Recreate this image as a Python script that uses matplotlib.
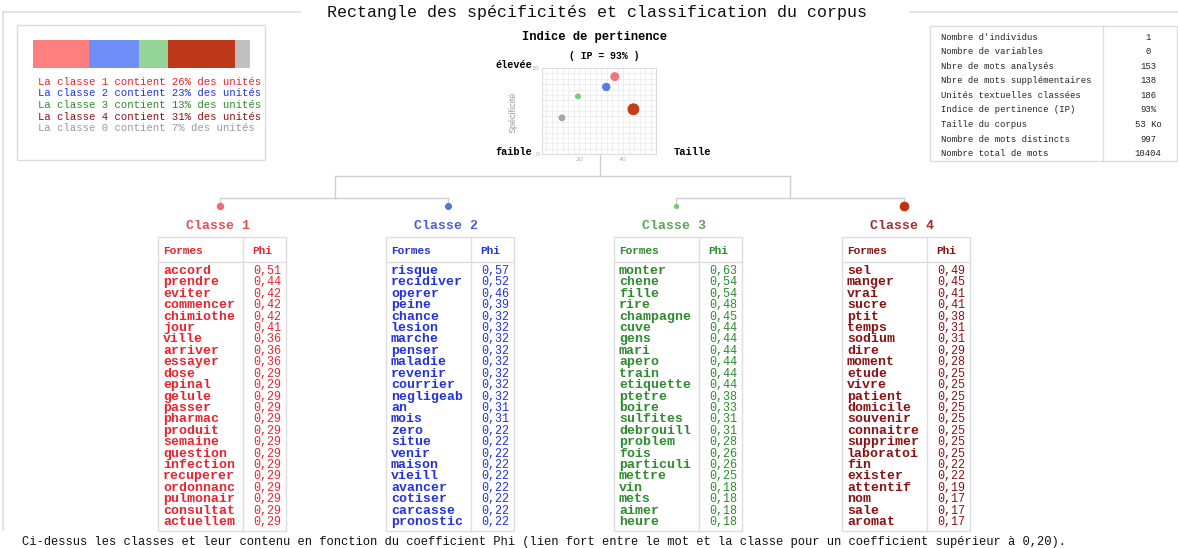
import matplotlib
matplotlib.use("Agg")
import matplotlib.pyplot as plt
from matplotlib.patches import Rectangle

MONO = "Liberation Mono"

# --- data ---------------------------------------------------------------
share_classes = ["1", "2", "3", "4", "0"]
share_pct = [26, 23, 13, 31, 7]

bubble_size_x = [36.2, 32.3, 19.4, 44.7, 12.1]   # Taille
bubble_spec_y = [9.0, 7.8, 6.7, 5.2, 4.2]        # Spécificité
bubble_diam = [8, 7.5, 5, 11, 6]                 # bubble diameter (px)

stat_labels = [
    "Nombre d'individus", "Nombre de variables", "Nbre de mots analysés",
    "Nbre de mots supplémentaires", "Unités textuelles classées",
    "Indice de pertinence (IP)", "Taille du corpus",
    "Nombre de mots distincts", "Nombre total de mots",
]
stat_values = ["1", "0", "153", "138", "186", "93%", "53 Ko", "997", "10404"]

class_titles = ["Classe 1", "Classe 2", "Classe 3", "Classe 4"]

words_c1 = ["accord", "prendre", "eviter", "commencer", "chimiothe", "jour",
            "ville", "arriver", "essayer", "dose", "epinal", "gelule", "passer",
            "pharmac", "produit", "semaine", "question", "infection",
            "recuperer", "ordonnanc", "pulmonair", "consultat", "actuellem"]
phi_c1 = [0.51, 0.44, 0.42, 0.42, 0.42, 0.41, 0.36, 0.36, 0.36, 0.29, 0.29,
          0.29, 0.29, 0.29, 0.29, 0.29, 0.29, 0.29, 0.29, 0.29, 0.29, 0.29,
          0.29]

words_c2 = ["risque", "recidiver", "operer", "peine", "chance", "lesion",
            "marche", "penser", "maladie", "revenir", "courrier", "negligeab",
            "an", "mois", "zero", "situe", "venir", "maison", "vieill",
            "avancer", "cotiser", "carcasse", "pronostic"]
phi_c2 = [0.57, 0.52, 0.46, 0.39, 0.32, 0.32, 0.32, 0.32, 0.32, 0.32, 0.32,
          0.32, 0.31, 0.31, 0.22, 0.22, 0.22, 0.22, 0.22, 0.22, 0.22, 0.22,
          0.22]

words_c3 = ["monter", "chene", "fille", "rire", "champagne", "cuve", "gens",
            "mari", "apero", "train", "etiquette", "ptetre", "boire",
            "sulfites", "debrouill", "problem", "fois", "particuli", "mettre",
            "vin", "mets", "aimer", "heure"]
phi_c3 = [0.63, 0.54, 0.54, 0.48, 0.45, 0.44, 0.44, 0.44, 0.44, 0.44, 0.44,
          0.38, 0.33, 0.31, 0.31, 0.28, 0.26, 0.26, 0.25, 0.18, 0.18, 0.18,
          0.18]

words_c4 = ["sel", "manger", "vrai", "sucre", "ptit", "temps", "sodium",
            "dire", "moment", "etude", "vivre", "patient", "domicile",
            "souvenir", "connaitre", "supprimer", "laboratoi", "fin",
            "exister", "attentif", "nom", "sale", "aromat"]
phi_c4 = [0.49, 0.45, 0.41, 0.41, 0.38, 0.31, 0.31, 0.29, 0.28, 0.25, 0.25,
          0.25, 0.25, 0.25, 0.25, 0.25, 0.25, 0.22, 0.22, 0.19, 0.17, 0.17,
          0.17]

# --- colours (classes 1, 2, 3, 4, 0) ------------------------------------
bar_colors = ["#ff7f7f", "#6f8ff7", "#94d494", "#c0381a", "#c0c0c0"]
text_colors = ["#e8242e", "#2233dd", "#2e8b2e", "#8b1212", "#9a9a9a"]
title_colors = ["#e05050", "#4a5fd0", "#5aa55a", "#a03030"]
bubble_colors = ["#f26a78", "#4e74e6", "#72cc72", "#c0330e", "#a0a0a0"]
LINE = "#cfcfcf"
BOX = "#dddddd"

W, H = 1178, 548
fig = plt.figure(figsize=(W / 100, H / 100), dpi=100, facecolor="white")
ax = fig.add_axes([0, 0, 1, 1])
ax.set_xlim(0, W)
ax.set_ylim(H, 0)
ax.axis("off")

# --- frame + title ------------------------------------------------------
ax.plot([3, 300], [12, 12], color=BOX, lw=1.2)
ax.plot([910, W], [12, 12], color=BOX, lw=1.2)
ax.plot([3, 3], [12, 530], color=BOX, lw=1.2)
ax.text(597, 13, "Rectangle des spécificités et classification du corpus",
        family=MONO, fontsize=12, ha="center", va="center", color="#111111")

# --- share bar + legend -------------------------------------------------
ax.add_patch(Rectangle((17, 25), 248, 135, fill=False, ec=BOX, lw=1))
x0, bar_w = 33, 217
total = sum(share_pct)
for pct, col in zip(share_pct, bar_colors):
    w = bar_w * pct / total
    ax.add_patch(Rectangle((x0, 40), w, 28, color=col, lw=0))
    x0 += w
for i, (cls, pct) in enumerate(zip(share_classes, share_pct)):
    ax.text(38, 82 + i * 11.5, f"La classe {cls} contient {pct}% des unités",
            family=MONO, fontsize=7.7, color=text_colors[i], va="center")

# --- relevance scatter --------------------------------------------------
sx0, sx1, sy0, sy1 = 542, 656, 68, 154
sax = fig.add_axes([sx0 / W, 1 - sy1 / H, (sx1 - sx0) / W, (sy1 - sy0) / H])
sax.set_xlim(3, 55)
sax.set_ylim(0, 10)
sax.set_xticks([20, 40])
sax.set_yticks([0, 10])
sax.set_xticks([v * 2.5 for v in range(2, 22)], minor=True)
sax.set_yticks([v * 0.625 for v in range(17)], minor=True)
sax.grid(True, which="both", color="#ececec", lw=0.6)
sax.set_axisbelow(True)
sax.tick_params(which="both", length=0, labelsize=4.5, colors="#b0b0b0",
                pad=2)
for sp in sax.spines.values():
    sp.set_color("#dcdcdc")
    sp.set_linewidth(0.8)
sax.scatter(bubble_size_x, bubble_spec_y,
            s=[(d * 0.72) ** 2 for d in bubble_diam],
            c=bubble_colors, edgecolors=bubble_colors, linewidths=0.6,
            alpha=0.95, zorder=3)

ax.text(595, 37, "Indice de pertinence", family=MONO, fontsize=8.7,
        fontweight="bold", ha="center", va="center")
ax.text(604, 56, "( IP = 93% )", family=MONO, fontsize=7, fontweight="bold",
        ha="center", va="center")
ax.text(532, 65, "élevée", family=MONO, fontsize=7.4, fontweight="bold",
        ha="right", va="center")
ax.text(532, 152, "faible", family=MONO, fontsize=7.4, fontweight="bold",
        ha="right", va="center")
ax.text(674, 152, "Taille", family=MONO, fontsize=7.6, fontweight="bold",
        ha="left", va="center")
ax.text(513, 112, "Spécificité", family="Liberation Sans", fontsize=6.5,
        rotation=90, ha="center", va="center", color="#999999")

# --- stats table --------------------------------------------------------
ax.add_patch(Rectangle((930, 26), 247, 135, fill=False, ec=BOX, lw=1))
ax.plot([1103, 1103], [26, 161], color=BOX, lw=1)
for i, (lab, val) in enumerate(zip(stat_labels, stat_values)):
    y = 37 + i * 14.6
    ax.text(941, y, lab, family=MONO, fontsize=6.4, va="center",
            color="#222222")
    ax.text(1148, y, val, family=MONO, fontsize=6.4, va="center",
            ha="center", color="#222222")

# --- dendrogram ---------------------------------------------------------
tbl_left = [158 + k * 228 for k in range(4)]
dot_x = [l + 62 for l in tbl_left]
ax.plot([600, 600], [sy1, 176], color=LINE, lw=1)
ax.plot([335, 790], [176, 176], color=LINE, lw=1)
ax.plot([335, 335], [176, 198], color=LINE, lw=1)
ax.plot([790, 790], [176, 198], color=LINE, lw=1)
ax.plot([dot_x[0], dot_x[1]], [198, 198], color=LINE, lw=1)
ax.plot([dot_x[2], dot_x[3]], [198, 198], color=LINE, lw=1)
for k, x in enumerate(dot_x):
    ax.plot([x, x], [198, 206], color=LINE, lw=1)
    ax.scatter([x], [206], s=(bubble_diam[k] * 0.75 * 0.72) ** 2,
               color=bubble_colors[k], zorder=4)

# --- class tables -------------------------------------------------------
all_words = [words_c1, words_c2, words_c3, words_c4]
all_phi = [phi_c1, phi_c2, phi_c3, phi_c4]
for k, left in enumerate(tbl_left):
    col = text_colors[k]
    ax.text(left + 60, 226, class_titles[k], family=MONO, fontsize=9.5,
            fontweight="bold", color=title_colors[k], ha="center",
            va="center")
    ax.add_patch(Rectangle((left, 237), 128, 294, fill=False, ec=BOX, lw=1))
    ax.plot([left + 85, left + 85], [237, 531], color=BOX, lw=1)
    ax.plot([left, left + 128], [262, 262], color=BOX, lw=1)
    ax.text(left + 5, 251, "Formes", family=MONO, fontsize=8,
            fontweight="bold", color=col, va="center")
    ax.text(left + 94, 251, "Phi", family=MONO, fontsize=8,
            fontweight="bold", color=col, va="center")
    for r, (word, phi) in enumerate(zip(all_words[k], all_phi[k])):
        y = 271 + r * 11.41
        ax.text(left + 5, y, word, family=MONO, fontsize=9.5,
                fontweight="bold", color=col, va="center")
        ax.text(left + 123, y, f"{phi:.2f}".replace(".", ","), family=MONO,
                fontsize=8.5, color=col, va="center", ha="right")

ax.text(22, 542, "Ci-dessus les classes et leur contenu en fonction du "
        "coefficient Phi (lien fort entre le mot et la classe pour un "
        "coefficient supérieur à 0,20).", family=MONO, fontsize=8.7,
        va="center", color="#111111")

fig.savefig("out.png", dpi=100, facecolor="white")
